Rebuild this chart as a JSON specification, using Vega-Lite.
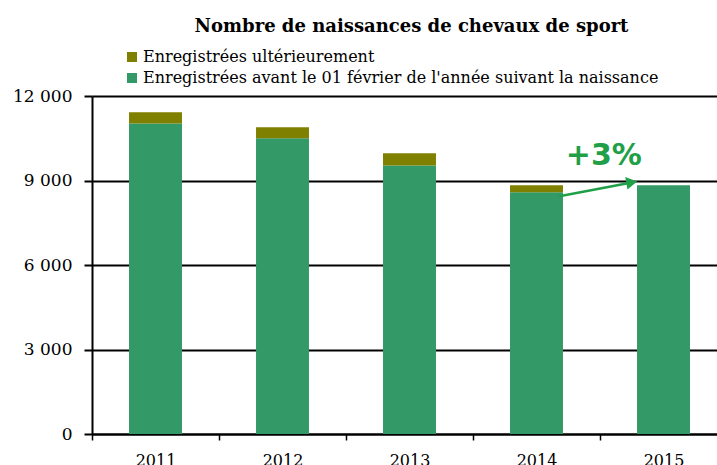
{
  "$schema": "https://vega.github.io/schema/vega-lite/v6.json",
  "width": 625,
  "height": 338,
  "autosize": {"type": "none"},
  "padding": {"left": 92, "top": 96, "right": 0, "bottom": 31},
  "background": "white",
  "config": {"view": {"stroke": null}, "font": "DejaVu Serif"},
  "title": {
    "text": "Nombre de naissances de chevaux de sport",
    "font": "DejaVu Serif",
    "fontSize": 18,
    "fontWeight": "bold",
    "color": "#000000",
    "anchor": "middle",
    "dx": 7,
    "offset": 13
  },
  "layer": [
    {
      "data": {
        "values": [
          {"annee": "2011", "serie": "Enregistrées avant le 01 février de l'année suivant la naissance", "naissances": 11020},
          {"annee": "2011", "serie": "Enregistrées ultérieurement", "naissances": 400},
          {"annee": "2012", "serie": "Enregistrées avant le 01 février de l'année suivant la naissance", "naissances": 10500},
          {"annee": "2012", "serie": "Enregistrées ultérieurement", "naissances": 390},
          {"annee": "2013", "serie": "Enregistrées avant le 01 février de l'année suivant la naissance", "naissances": 9530},
          {"annee": "2013", "serie": "Enregistrées ultérieurement", "naissances": 440},
          {"annee": "2014", "serie": "Enregistrées avant le 01 février de l'année suivant la naissance", "naissances": 8580},
          {"annee": "2014", "serie": "Enregistrées ultérieurement", "naissances": 250},
          {"annee": "2015", "serie": "Enregistrées avant le 01 février de l'année suivant la naissance", "naissances": 8830}
        ]
      },
      "mark": {"type": "bar", "width": {"band": 0.417}},
      "encoding": {
        "x": {
          "field": "annee",
          "type": "nominal",
          "scale": {"range": [0, 635], "paddingInner": 0, "paddingOuter": 0},
          "axis": {
            "title": null,
            "labelAngle": 0,
            "tickBand": "extent",
            "domainColor": "#000000",
            "domainWidth": 2,
            "tickColor": "#000000",
            "tickWidth": 1.5,
            "tickSize": 6,
            "labelPadding": 12,
            "labelFontSize": 16,
            "labelColor": "#000000",
            "labelFont": "DejaVu Serif",
            "grid": false
          }
        },
        "y": {
          "field": "naissances",
          "type": "quantitative",
          "stack": "zero",
          "scale": {"domain": [0, 12000], "nice": false},
          "axis": {
            "title": null,
            "values": [0, 3000, 6000, 9000, 12000],
            "grid": true,
            "gridColor": "#000000",
            "gridWidth": 2,
            "gridOpacity": 1,
            "domainColor": "#000000",
            "domainWidth": 2,
            "tickColor": "#000000",
            "tickWidth": 2,
            "tickSize": 8,
            "labelExpr": "replace(format(datum.value, ','), ',', ' ')",
            "labelFontSize": 17,
            "labelFont": "DejaVu Serif",
            "labelColor": "#000000",
            "labelPadding": 12
          }
        },
        "color": {
          "field": "serie",
          "type": "nominal",
          "scale": {
            "domain": ["Enregistrées ultérieurement", "Enregistrées avant le 01 février de l'année suivant la naissance"],
            "range": ["#808000", "#339966"]
          },
          "legend": {
            "orient": "none",
            "legendX": 32,
            "legendY": -47,
            "title": null,
            "symbolType": "square",
            "symbolSize": 100,
            "symbolStrokeWidth": 0,
            "symbolOpacity": 1,
            "labelFontSize": 16,
            "labelFont": "DejaVu Serif",
            "labelColor": "#000000",
            "labelLimit": 0,
            "rowPadding": 5,
            "padding": 0,
            "labelOffset": 3
          }
        },
        "order": {"field": "serie", "sort": "ascending"}
      }
    },
    {
      "layer": [
        {
          "data": {"values": [{"xi": 3.68, "naissances": 8440, "xi2": 4.24, "naissances2": 8920}]},
          "mark": {"type": "rule", "color": "#1fa048", "strokeWidth": 2.5},
          "encoding": {
            "x": {"field": "xi", "type": "quantitative", "scale": {"domain": [0, 5], "range": [0, 635]}, "axis": null},
            "x2": {"field": "xi2"},
            "y": {"field": "naissances", "type": "quantitative"},
            "y2": {"field": "naissances2"}
          }
        },
        {
          "data": {"values": [{"xi": 4.25, "naissances": 8935}]},
          "mark": {"type": "point", "shape": "triangle-right", "filled": true, "color": "#1fa048", "size": 160, "angle": -10, "opacity": 1},
          "encoding": {
            "x": {"field": "xi", "type": "quantitative", "scale": {"domain": [0, 5], "range": [0, 635]}, "axis": null},
            "y": {"field": "naissances", "type": "quantitative"}
          }
        },
        {
          "data": {"values": [{"xi": 4.03, "naissances": 9540, "label": "+3%"}]},
          "mark": {"type": "text", "font": "DejaVu Sans", "fontSize": 30, "fontWeight": "bold", "color": "#1fa048", "baseline": "alphabetic", "align": "center"},
          "encoding": {
            "x": {"field": "xi", "type": "quantitative", "scale": {"domain": [0, 5], "range": [0, 635]}, "axis": null},
            "y": {"field": "naissances", "type": "quantitative"},
            "text": {"field": "label"}
          }
        }
      ]
    }
  ],
  "resolve": {"scale": {"x": "independent"}, "axis": {"x": "independent"}}
}
